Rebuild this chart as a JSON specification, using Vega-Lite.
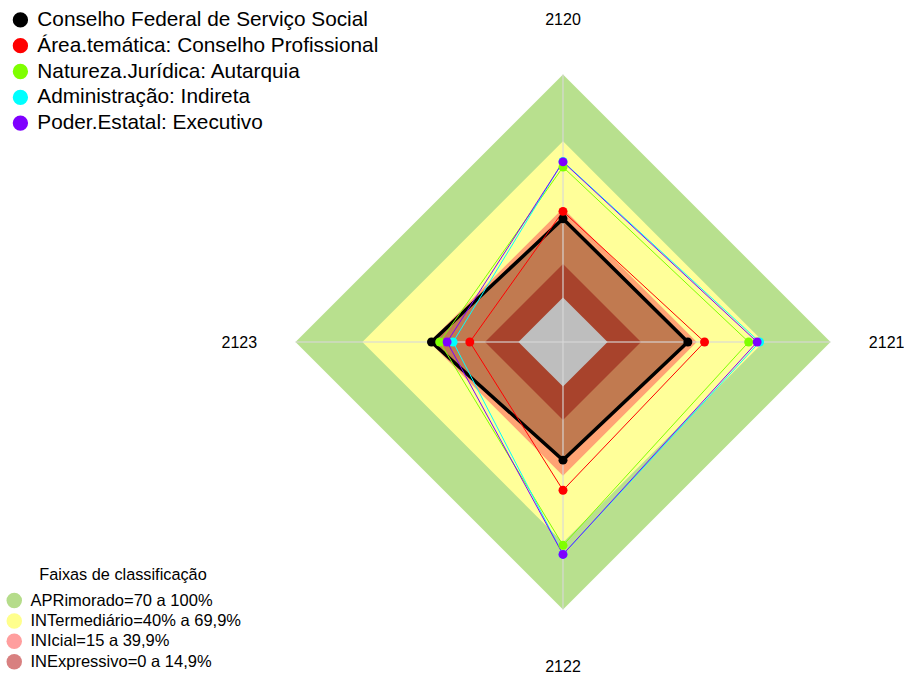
{
  "$schema": "https://vega.github.io/schema/vega-lite/v6.json",
  "width": 904,
  "height": 675,
  "autosize": {"type": "none"},
  "padding": 0,
  "background": "white",
  "config": {"view": {"stroke": null}, "font": "Liberation Sans"},
  "datasets": {
    "series": [
      {"serie": "Conselho Federal de Serviço Social", "eixo": "2120", "valor": 35.3},
      {"serie": "Conselho Federal de Serviço Social", "eixo": "2121", "valor": 36.0},
      {"serie": "Conselho Federal de Serviço Social", "eixo": "2122", "valor": 33.0},
      {"serie": "Conselho Federal de Serviço Social", "eixo": "2123", "valor": 39.0},
      {"serie": "Área.temática: Conselho Profissional", "eixo": "2120", "valor": 38.6},
      {"serie": "Área.temática: Conselho Profissional", "eixo": "2121", "valor": 43.5},
      {"serie": "Área.temática: Conselho Profissional", "eixo": "2122", "valor": 46.5},
      {"serie": "Área.temática: Conselho Profissional", "eixo": "2123", "valor": 21.8},
      {"serie": "Natureza.Jurídica: Autarquia", "eixo": "2120", "valor": 58.5},
      {"serie": "Natureza.Jurídica: Autarquia", "eixo": "2121", "valor": 63.3},
      {"serie": "Natureza.Jurídica: Autarquia", "eixo": "2122", "valor": 71.2},
      {"serie": "Natureza.Jurídica: Autarquia", "eixo": "2123", "valor": 35.3},
      {"serie": "Administração: Indireta", "eixo": "2120", "valor": 61.0},
      {"serie": "Administração: Indireta", "eixo": "2121", "valor": 68.2},
      {"serie": "Administração: Indireta", "eixo": "2122", "valor": 75.3},
      {"serie": "Administração: Indireta", "eixo": "2123", "valor": 29.3},
      {"serie": "Poder.Estatal: Executivo", "eixo": "2120", "valor": 60.8},
      {"serie": "Poder.Estatal: Executivo", "eixo": "2121", "valor": 67.1},
      {"serie": "Poder.Estatal: Executivo", "eixo": "2122", "valor": 75.3},
      {"serie": "Poder.Estatal: Executivo", "eixo": "2123", "valor": 32.0}
    ],
    "faixas": [
      {"faixa": "APRimorado=70 a 100%", "eixo": "2120", "valor": 100},
      {"faixa": "APRimorado=70 a 100%", "eixo": "2121", "valor": 100},
      {"faixa": "APRimorado=70 a 100%", "eixo": "2122", "valor": 100},
      {"faixa": "APRimorado=70 a 100%", "eixo": "2123", "valor": 100},
      {"faixa": "INTermediário=40% a 69,9%", "eixo": "2120", "valor": 70},
      {"faixa": "INTermediário=40% a 69,9%", "eixo": "2121", "valor": 70},
      {"faixa": "INTermediário=40% a 69,9%", "eixo": "2122", "valor": 70},
      {"faixa": "INTermediário=40% a 69,9%", "eixo": "2123", "valor": 70},
      {"faixa": "INIcial=15 a 39,9%", "eixo": "2120", "valor": 40},
      {"faixa": "INIcial=15 a 39,9%", "eixo": "2121", "valor": 40},
      {"faixa": "INIcial=15 a 39,9%", "eixo": "2122", "valor": 40},
      {"faixa": "INIcial=15 a 39,9%", "eixo": "2123", "valor": 40},
      {"faixa": "INExpressivo=0 a 14,9%", "eixo": "2120", "valor": 15},
      {"faixa": "INExpressivo=0 a 14,9%", "eixo": "2121", "valor": 15},
      {"faixa": "INExpressivo=0 a 14,9%", "eixo": "2122", "valor": 15},
      {"faixa": "INExpressivo=0 a 14,9%", "eixo": "2123", "valor": 15},
      {"faixa": "Centro", "eixo": "2120", "valor": 0},
      {"faixa": "Centro", "eixo": "2121", "valor": 0},
      {"faixa": "Centro", "eixo": "2122", "valor": 0},
      {"faixa": "Centro", "eixo": "2123", "valor": 0}
    ],
    "eixos": [
      {"eixo": "2120", "valor": 100},
      {"eixo": "2121", "valor": 100},
      {"eixo": "2122", "valor": 100},
      {"eixo": "2123", "valor": 100}
    ]
  },
  "encoding": {
    "x": {"field": "x", "type": "quantitative", "scale": {"domain": [-2.1047, 1.2748], "nice": false, "zero": false}, "axis": null},
    "y": {"field": "y", "type": "quantitative", "scale": {"domain": [-1.2449, 1.2785], "nice": false, "zero": false}, "axis": null},
    "order": {"field": "idx", "type": "quantitative"}
  },
  "layer": [
    {
      "data": {"name": "faixas"},
      "transform": [
        {"filter": "datum.faixa == 'APRimorado=70 a 100%'"},
        {"calculate": "indexof(['2120','2121','2122','2123'], datum.eixo)", "as": "idx"},
        {"calculate": "1/6 + 5/6*datum.valor/100", "as": "r"},
        {"calculate": "datum.r*sin(datum.idx*PI/2)", "as": "x"},
        {"calculate": "datum.r*cos(datum.idx*PI/2)", "as": "y"}
      ],
      "mark": {"type": "line", "interpolate": "linear-closed", "fill": "#b8e08e", "strokeOpacity": 0}
    },
    {
      "data": {"name": "faixas"},
      "transform": [
        {"filter": "datum.faixa == 'INTermediário=40% a 69,9%'"},
        {"calculate": "indexof(['2120','2121','2122','2123'], datum.eixo)", "as": "idx"},
        {"calculate": "1/6 + 5/6*datum.valor/100", "as": "r"},
        {"calculate": "datum.r*sin(datum.idx*PI/2)", "as": "x"},
        {"calculate": "datum.r*cos(datum.idx*PI/2)", "as": "y"}
      ],
      "mark": {"type": "line", "interpolate": "linear-closed", "fill": "#ffff99", "strokeOpacity": 0}
    },
    {
      "data": {"name": "faixas"},
      "transform": [
        {"filter": "datum.faixa == 'INIcial=15 a 39,9%'"},
        {"calculate": "indexof(['2120','2121','2122','2123'], datum.eixo)", "as": "idx"},
        {"calculate": "1/6 + 5/6*datum.valor/100", "as": "r"},
        {"calculate": "datum.r*sin(datum.idx*PI/2)", "as": "x"},
        {"calculate": "datum.r*cos(datum.idx*PI/2)", "as": "y"}
      ],
      "mark": {"type": "line", "interpolate": "linear-closed", "fill": "#ffa374", "strokeOpacity": 0}
    },
    {
      "data": {"name": "series"},
      "transform": [
        {"filter": "datum.serie == 'Conselho Federal de Serviço Social'"},
        {"calculate": "indexof(['2120','2121','2122','2123'], datum.eixo)", "as": "idx"},
        {"calculate": "1/6 + 5/6*datum.valor/100", "as": "r"},
        {"calculate": "datum.r*sin(datum.idx*PI/2)", "as": "x"},
        {"calculate": "datum.r*cos(datum.idx*PI/2)", "as": "y"}
      ],
      "mark": {"type": "line", "interpolate": "linear-closed", "fill": "#c17a50", "strokeOpacity": 0}
    },
    {
      "data": {"name": "faixas"},
      "transform": [
        {"filter": "datum.faixa == 'INExpressivo=0 a 14,9%'"},
        {"calculate": "indexof(['2120','2121','2122','2123'], datum.eixo)", "as": "idx"},
        {"calculate": "1/6 + 5/6*datum.valor/100", "as": "r"},
        {"calculate": "datum.r*sin(datum.idx*PI/2)", "as": "x"},
        {"calculate": "datum.r*cos(datum.idx*PI/2)", "as": "y"}
      ],
      "mark": {"type": "line", "interpolate": "linear-closed", "fill": "#a8432c", "strokeOpacity": 0}
    },
    {
      "data": {"name": "faixas"},
      "transform": [
        {"filter": "datum.faixa == 'Centro'"},
        {"calculate": "indexof(['2120','2121','2122','2123'], datum.eixo)", "as": "idx"},
        {"calculate": "1/6 + 5/6*datum.valor/100", "as": "r"},
        {"calculate": "datum.r*sin(datum.idx*PI/2)", "as": "x"},
        {"calculate": "datum.r*cos(datum.idx*PI/2)", "as": "y"}
      ],
      "mark": {"type": "line", "interpolate": "linear-closed", "fill": "#bebebe", "strokeOpacity": 0}
    },
    {
      "data": {"name": "eixos"},
      "transform": [
        {"calculate": "indexof(['2120','2121','2122','2123'], datum.eixo)", "as": "idx"},
        {"calculate": "datum.valor/100", "as": "r"},
        {"calculate": "datum.r*sin(datum.idx*PI/2)", "as": "x"},
        {"calculate": "datum.r*cos(datum.idx*PI/2)", "as": "y"}
      ],
      "mark": {"type": "rule", "color": "#d8d8d8", "strokeWidth": 1.5, "opacity": 0.75},
      "encoding": {
        "x": {"datum": 0, "type": "quantitative"},
        "y": {"datum": 0, "type": "quantitative"},
        "x2": {"field": "x"},
        "y2": {"field": "y"}
      }
    },
    {
      "data": {"name": "series"},
      "transform": [
        {"filter": "datum.serie == 'Conselho Federal de Serviço Social'"},
        {"calculate": "indexof(['2120','2121','2122','2123'], datum.eixo)", "as": "idx"},
        {"calculate": "1/6 + 5/6*datum.valor/100", "as": "r"},
        {"calculate": "datum.r*sin(datum.idx*PI/2)", "as": "x"},
        {"calculate": "datum.r*cos(datum.idx*PI/2)", "as": "y"}
      ],
      "mark": {"type": "line", "interpolate": "linear-closed", "color": "#000000", "strokeWidth": 3.5}
    },
    {
      "data": {"name": "series"},
      "transform": [
        {"filter": "datum.serie != 'Conselho Federal de Serviço Social'"},
        {"calculate": "indexof(['2120','2121','2122','2123'], datum.eixo)", "as": "idx"},
        {"calculate": "1/6 + 5/6*datum.valor/100", "as": "r"},
        {"calculate": "datum.r*sin(datum.idx*PI/2)", "as": "x"},
        {"calculate": "datum.r*cos(datum.idx*PI/2)", "as": "y"}
      ],
      "mark": {"type": "line", "interpolate": "linear-closed", "strokeWidth": 1},
      "encoding": {
        "color": {
          "field": "serie", "type": "nominal",
          "scale": {
            "domain": ["Conselho Federal de Serviço Social", "Área.temática: Conselho Profissional", "Natureza.Jurídica: Autarquia", "Administração: Indireta", "Poder.Estatal: Executivo"],
            "range": ["#000000", "#ff0000", "#7fff00", "#00ffff", "#7f00ff"]
          },
          "legend": null
        },
        "detail": {"field": "serie"}
      }
    },
    {
      "data": {"name": "series"},
      "transform": [
        {"calculate": "indexof(['2120','2121','2122','2123'], datum.eixo)", "as": "idx"},
        {"calculate": "1/6 + 5/6*datum.valor/100", "as": "r"},
        {"calculate": "datum.r*sin(datum.idx*PI/2)", "as": "x"},
        {"calculate": "datum.r*cos(datum.idx*PI/2)", "as": "y"}
      ],
      "mark": {"type": "point", "filled": true, "size": 80, "opacity": 1, "shape": "circle"},
      "encoding": {
        "color": {
          "field": "serie", "type": "nominal",
          "scale": {
            "domain": ["Conselho Federal de Serviço Social", "Área.temática: Conselho Profissional", "Natureza.Jurídica: Autarquia", "Administração: Indireta", "Poder.Estatal: Executivo"],
            "range": ["#000000", "#ff0000", "#7fff00", "#00ffff", "#7f00ff"]
          },
          "legend": {
            "orient": "none", "legendX": 10, "legendY": 9.5, "title": null,
            "symbolSize": 235, "symbolType": "circle", "symbolStrokeWidth": 0,
            "labelFontSize": 20.8, "labelFont": "Liberation Sans", "labelColor": "#000000",
            "rowPadding": 3.8, "labelOffset": 6.5, "padding": 0, "labelLimit": 0
          }
        }
      }
    },
    {
      "data": {"name": "eixos"},
      "transform": [
        {"calculate": "indexof(['2120','2121','2122','2123'], datum.eixo)", "as": "idx"},
        {"calculate": "1.21*datum.valor/100", "as": "r"},
        {"calculate": "datum.r*sin(datum.idx*PI/2)", "as": "x"},
        {"calculate": "datum.r*cos(datum.idx*PI/2)", "as": "y"}
      ],
      "mark": {"type": "text", "fontSize": 16, "font": "Liberation Sans", "color": "#000000", "align": "center", "baseline": "middle", "dy": 1.5},
      "encoding": {"text": {"field": "eixo"}}
    },
    {
      "data": {"name": "faixas"},
      "transform": [
        {"filter": "datum.faixa != 'Centro'"},
        {"calculate": "indexof(['2120','2121','2122','2123'], datum.eixo)", "as": "idx"},
        {"calculate": "1/6 + 5/6*datum.valor/100", "as": "r"},
        {"calculate": "datum.r*sin(datum.idx*PI/2)", "as": "x"},
        {"calculate": "datum.r*cos(datum.idx*PI/2)", "as": "y"}
      ],
      "mark": {"type": "point", "filled": true, "opacity": 0, "shape": "circle"},
      "encoding": {
        "fill": {
          "field": "faixa", "type": "nominal",
          "scale": {
            "domain": ["APRimorado=70 a 100%", "INTermediário=40% a 69,9%", "INIcial=15 a 39,9%", "INExpressivo=0 a 14,9%"],
            "range": ["#b5dc8a", "#ffff8c", "#ff9e9e", "#d88080"]
          },
          "legend": {
            "orient": "none", "legendX": 6, "legendY": 567,
            "title": "Faixas de classificação", "titleFontSize": 16.3, "titleFontWeight": "normal",
            "titleFont": "Liberation Sans", "titleColor": "#000000", "titleAnchor": "middle", "titlePadding": 9,
            "symbolSize": 240, "symbolType": "circle", "symbolStrokeWidth": 0, "symbolOpacity": 1,
            "labelFontSize": 16.5, "labelFont": "Liberation Sans", "labelColor": "#000000",
            "rowPadding": 3.4, "labelOffset": 8, "padding": 0, "labelLimit": 0,
            "encode": {"symbols": {"update": {"opacity": {"value": 1}}}}
          }
        }
      }
    }
  ],
  "resolve": {"scale": {"color": "independent", "fill": "independent"}}
}
